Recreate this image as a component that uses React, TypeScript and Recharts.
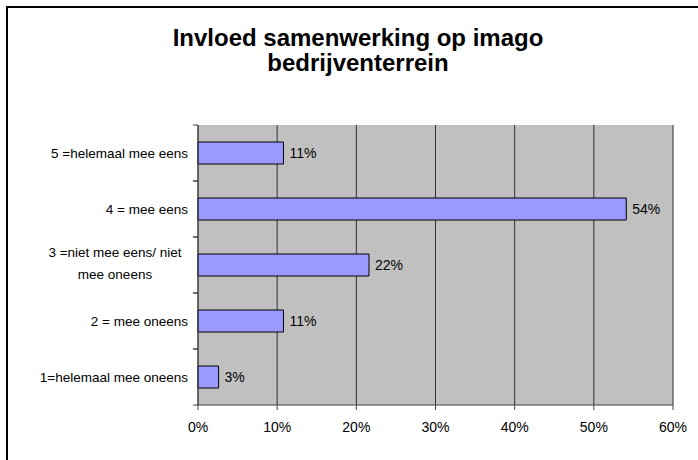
import { BarChart, Bar, XAxis, YAxis, CartesianGrid, LabelList } from "recharts"

const categories = [
  "5 =helemaal mee eens",
  "4 = mee eens",
  "3 =niet mee eens/ niet mee oneens",
  "2 = mee oneens",
  "1=helemaal mee oneens",
]
// how the axis label is wrapped, per category
const categoryLines = [
  ["5 =helemaal mee eens"],
  ["4 = mee eens"],
  ["3 =niet mee eens/ niet", "mee oneens"],
  ["2 = mee oneens"],
  ["1=helemaal mee oneens"],
]
const values = [10.8, 54.1, 21.6, 10.8, 2.6]
const xTicks = [0, 10, 20, 30, 40, 50, 60]

const data = categories.map((name, i) => ({ name, value: values[i] }))

const W = 698
const H = 460
const margin = { top: 125, right: 25, bottom: 25, left: 8 }
const xAxisHeight = 30
const plotHeight = H - margin.top - margin.bottom - xAxisHeight
const bandHalf = plotHeight / categories.length / 2

const font = "'Liberation Sans', Arial, sans-serif"
const axisColor = "#404040"

function CategoryTick(props: any) {
  const { x, y, index } = props
  const lines = categoryLines[index] || [props.payload.value]
  return (
    <g>
      {/* Excel style ticks sit between the categories */}
      <line x1={x + 5} x2={x + 10} y1={y - bandHalf} y2={y - bandHalf} stroke={axisColor} />
      <line x1={x + 5} x2={x + 10} y1={y + bandHalf} y2={y + bandHalf} stroke={axisColor} />
      {lines.length === 1 ? (
        <text x={x} y={y + 4.5} textAnchor="end" fontSize={13.5} fill="#000" fontFamily={font}>
          {lines[0]}
        </text>
      ) : (
        lines.map((line: string, i: number) => (
          <text key={i} x={x - 73} y={y - 8 + i * 22} textAnchor="middle" fontSize={13.5} fill="#000" fontFamily={font}>
            {line}
          </text>
        ))
      )}
    </g>
  )
}

export default function App() {
  return (
    <div style={{ position: "fixed", left: 0, top: 0, width: W, height: H, overflow: "hidden", background: "#fff", fontFamily: font }}>
      <div
        style={{
          position: "absolute",
          left: 0,
          top: 25,
          width: 716,
          textAlign: "center",
          fontSize: 24,
          lineHeight: "25px",
          fontWeight: "bold",
          color: "#000",
        }}
      >
        Invloed samenwerking op imago
        <br />
        bedrijventerrein
      </div>
      <div style={{ position: "absolute", left: 0, top: 0 }}>
        <BarChart width={W} height={H} data={data} layout="vertical" margin={margin}>
          <CartesianGrid horizontal={false} vertical stroke="#303030" fill="#c0c0c0" fillOpacity={1} />
          <XAxis
            type="number"
            domain={[0, 60]}
            ticks={xTicks}
            tickFormatter={(v) => `${v}%`}
            height={xAxisHeight}
            tickSize={5}
            tickMargin={12}
            axisLine={{ stroke: axisColor }}
            tickLine={{ stroke: axisColor }}
            tick={{ fill: "#000", fontSize: 14, fontFamily: font }}
          />
          <XAxis
            xAxisId="top"
            orientation="top"
            type="number"
            domain={[0, 60]}
            height={0}
            tick={false}
            tickLine={false}
            axisLine={{ stroke: "#8a8a8a" }}
          />
          <YAxis
            type="category"
            dataKey="name"
            width={190}
            interval={0}
            tickSize={5}
            tickMargin={5}
            tickLine={false}
            axisLine={{ stroke: axisColor }}
            tick={<CategoryTick />}
          />
          <Bar dataKey="value" fill="#9999ff" stroke="#000" strokeWidth={1} barSize={22} isAnimationActive={false}>
            <LabelList
              dataKey="value"
              position="right"
              offset={6}
              formatter={(v: any) => `${Math.round(v)}%`}
              style={{ fill: "#000", fontSize: 14, fontFamily: font }}
            />
          </Bar>
        </BarChart>
      </div>
      {/* chart frame, its right and bottom edges fall outside the picture */}
      <div
        style={{
          position: "absolute",
          left: 6,
          top: 6,
          width: 800,
          height: 600,
          borderTop: "2px solid #000",
          borderLeft: "2px solid #000",
          zIndex: 2,
          pointerEvents: "none",
        }}
      />
    </div>
  )
}
